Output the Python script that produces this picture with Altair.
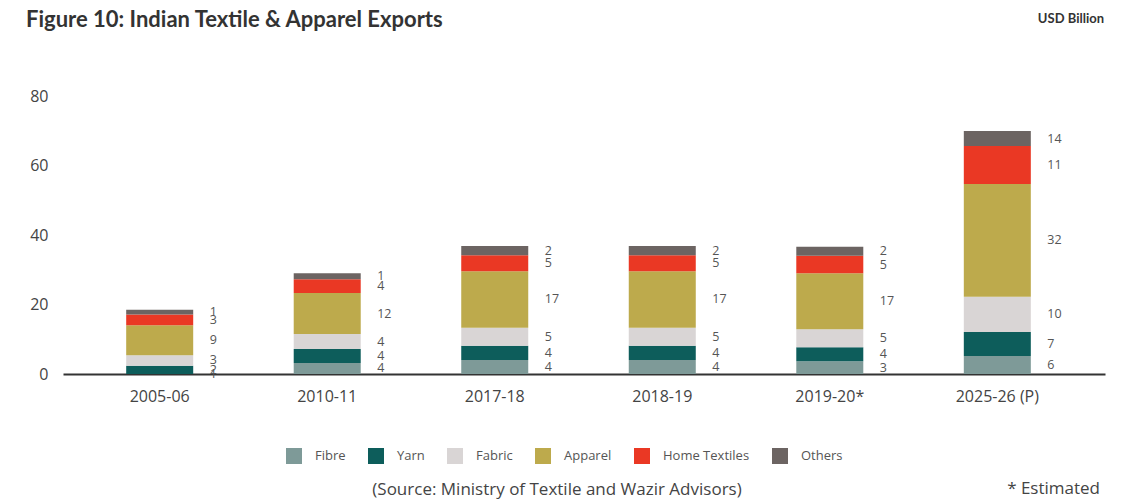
import altair as alt
import pandas as pd

years = ["2005-06", "2010-11", "2017-18", "2018-19", "2019-20*", "2025-26 (P)"]
series = ["Fibre", "Yarn", "Fabric", "Apparel", "Home Textiles", "Others"]
colors = ["#7e9a98", "#0d5d5b", "#d9d5d5", "#bdaa4c", "#ea3824", "#6c6462"]

# segment heights as drawn (USD Billion)
fibre = [0.0, 3.2, 4.0, 4.0, 3.7, 5.2]
yarn = [2.4, 4.0, 4.1, 4.1, 4.0, 6.9]
fabric = [3.0, 4.3, 5.2, 5.2, 5.2, 10.1]
apparel = [8.6, 11.8, 16.3, 16.3, 16.1, 32.5]
home = [3.1, 4.0, 4.6, 4.6, 5.0, 10.9]
others = [1.4, 1.7, 2.6, 2.6, 2.6, 4.3]

# printed data labels
fibre_lbl = ["1", "4", "4", "4", "3", "6"]
yarn_lbl = ["2", "4", "4", "4", "4", "7"]
fabric_lbl = ["3", "4", "5", "5", "5", "10"]
apparel_lbl = ["9", "12", "17", "17", "17", "32"]
home_lbl = ["3", "4", "5", "5", "5", "11"]
others_lbl = ["1", "1", "2", "2", "2", "14"]

vals = [fibre, yarn, fabric, apparel, home, others]
lbls = [fibre_lbl, yarn_lbl, fabric_lbl, apparel_lbl, home_lbl, others_lbl]

rows = []
for si, s in enumerate(series):
    for yi, y in enumerate(years):
        rows.append({"year": y, "series": s, "ord": si,
                     "value": vals[si][yi], "label": lbls[si][yi]})
df = pd.DataFrame(rows)

W, H = 1042, 278
FONT = "Open Sans"

base = alt.Chart(df).transform_stack(
    stack="value", groupby=["year"], as_=["y0", "y1"],
    sort=[alt.SortField("ord", order="ascending")]
).transform_calculate(mid="(datum.y0 + datum.y1) / 2")

xenc = alt.X("year:N", sort=years, title=None,
             scale=alt.Scale(paddingInner=0.6, paddingOuter=0.41, align=0.46),
             axis=alt.Axis(labelAngle=0, labelFont=FONT, labelFontSize=16,
                           labelColor="#444", ticks=False, tickSize=0,
                           labelPadding=14, domainColor="#333",
                           domainWidth=2, grid=False))

bars = base.mark_bar().encode(
    x=xenc,
    y=alt.Y("y0:Q", title=None,
            scale=alt.Scale(domain=[0, 80], nice=False),
            axis=alt.Axis(values=[0, 20, 40, 60, 80], labelFont=FONT,
                          labelFontSize=16, labelColor="#444", ticks=False,
                          tickSize=0, labelPadding=15, domain=False,
                          grid=False)),
    y2="y1:Q",
    color=alt.Color("series:N", sort=series,
                    scale=alt.Scale(domain=series, range=colors),
                    legend=alt.Legend(title=None, orient="none",
                                      direction="horizontal",
                                      legendX=223, legendY=352,
                                      symbolType="square", symbolSize=256,
                                      symbolStrokeWidth=0, symbolOpacity=1,
                                      labelFont=FONT, labelFontSize=13,
                                      labelColor="#555", labelOffset=13,
                                      columnPadding=22, columns=6)),
)

labels = base.mark_text(align="left", baseline="middle", dx=50,
                        font=FONT, fontSize=12.5, color="#555").encode(
    x=alt.X("year:N", sort=years),
    y=alt.Y("mid:Q"),
    text="label:N",
)

ann = pd.DataFrame({"t": [0]})
title = alt.Chart(ann).mark_text(
    text="Figure 10: Indian Textile & Apparel Exports", align="left",
    baseline="alphabetic", font="Lato", fontSize=22, fontWeight="bold",
    color="#333").encode(x=alt.value(-37), y=alt.value(-69))
unit = alt.Chart(ann).mark_text(
    text="USD Billion", align="right", baseline="alphabetic", font="Lato",
    fontSize=13, fontWeight="bold", color="#333").encode(
    x=alt.value(1041), y=alt.value(-73))
source = alt.Chart(ann).mark_text(
    text="(Source: Ministry of Textile and Wazir Advisors)", align="center",
    baseline="alphabetic", font=FONT, fontSize=17, color="#444").encode(
    x=alt.value(494), y=alt.value(399))
est = alt.Chart(ann).mark_text(
    text="* Estimated", align="right", baseline="alphabetic", font=FONT,
    fontSize=17, color="#444").encode(x=alt.value(1037), y=alt.value(398))

chart = alt.layer(bars, labels, title, unit, source, est).properties(
    width=W, height=H,
    background="white",
    autosize=alt.AutoSizeParams(type="none"),
    padding={"left": 55, "top": 88, "right": 11, "bottom": 128},
).configure_view(stroke=None)

chart.save("out.html", embed_options={"renderer": "svg", "actions": False})
